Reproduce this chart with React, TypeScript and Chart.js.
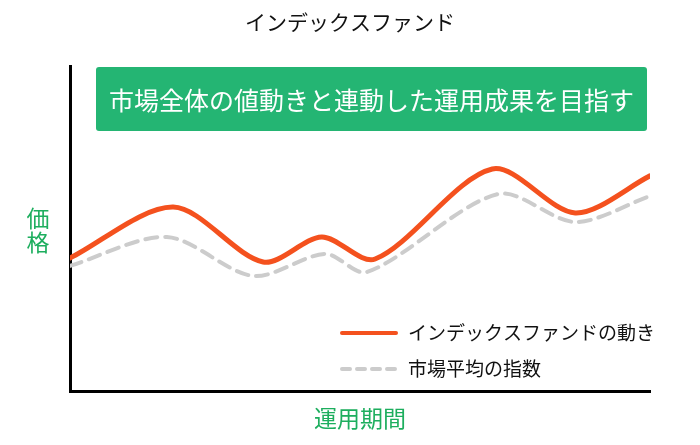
import React, { useEffect, useRef } from "react";
import { Chart, registerables } from "chart.js";

Chart.register(...registerables);

const chartTitle = "インデックスファンド";
const bannerText = "市場全体の値動きと連動した運用成果を目指す";
const yAxisLabel = ["価", "格"];
const xAxisLabel = "運用期間";
const fundLabel = "インデックスファンドの動き";
const marketLabel = "市場平均の指数";

const fundPeriods = [0, 17.8, 33.3, 43.4, 52.6, 72.8, 87.1, 100];
const fundValues = [40.9, 56.6, 39.7, 47.4, 40.6, 68.3, 54.8, 66.2];
const marketPeriods = [0, 16.7, 31.6, 44, 51.2, 73.8, 87.1, 100];
const marketValues = [38.5, 47.4, 35.4, 42.2, 36.6, 60.6, 52, 60];

const ORANGE = "#F4511E";
const GRAY = "#CCCCCC";
const GREEN_BOX = "#24B573";
const GREEN_TEXT = "#1DAE5E";
const FONT = '"Noto Sans CJK JP", "Noto Sans", sans-serif';

const decorPlugin = {
  id: "decor",
  afterDraw(chart: any) {
    const ctx = chart.ctx as CanvasRenderingContext2D;
    const ca = chart.chartArea;
    ctx.save();
    // title
    ctx.fillStyle = "#111111";
    ctx.font = `21px ${FONT}`;
    ctx.textAlign = "center";
    ctx.textBaseline = "middle";
    ctx.fillText(chartTitle, 350, 22);

    // banner
    ctx.fillStyle = GREEN_BOX;
    ctx.beginPath();
    (ctx as any).roundRect(96, 67, 551, 64, 3);
    ctx.fill();
    ctx.fillStyle = "#FFFFFF";
    ctx.font = `25px ${FONT}`;
    ctx.fillText(bannerText, 371.5, 100);

    // axis labels
    ctx.fillStyle = GREEN_TEXT;
    ctx.font = `23px ${FONT}`;
    yAxisLabel.forEach((ch, i) => ctx.fillText(ch, 38, 218 + i * 24));
    ctx.fillText(xAxisLabel, (ca.left + ca.right) / 2, 418);

    // legend
    const sx0 = 342, sx1 = 396, tx = 408;
    const rows = [
      { label: fundLabel, color: ORANGE, dash: [] as number[], y: 333 },
      { label: marketLabel, color: GRAY, dash: [8, 7], y: 369 },
    ];
    rows.forEach((r) => {
      ctx.beginPath();
      ctx.strokeStyle = r.color;
      ctx.lineWidth = 4;
      ctx.lineCap = "round";
      ctx.setLineDash(r.dash);
      ctx.moveTo(sx0, r.y);
      ctx.lineTo(sx1, r.y);
      ctx.stroke();
      ctx.setLineDash([]);
      ctx.fillStyle = "#111111";
      ctx.font = `19px ${FONT}`;
      ctx.textAlign = "left";
      ctx.fillText(r.label, tx, r.y);
    });
    ctx.restore();
  },
};

export default function App() {
  const ref = useRef<HTMLCanvasElement | null>(null);
  useEffect(() => {
    if (!ref.current) return;
    const chart = new Chart(ref.current, {
      type: "line",
      data: {
        datasets: [
          {
            label: marketLabel,
            data: marketPeriods.map((x, i) => ({ x, y: marketValues[i] })),
            borderColor: GRAY,
            borderWidth: 4,
            borderDash: [12, 8],
            borderCapStyle: "round",
            pointRadius: 0,
            tension: 0.3,
            fill: false,
          },
          {
            label: fundLabel,
            data: fundPeriods.map((x, i) => ({ x, y: fundValues[i] })),
            borderColor: ORANGE,
            borderWidth: 5,
            borderCapStyle: "round",
            borderJoinStyle: "round",
            pointRadius: 0,
            tension: 0.3,
            fill: false,
          },
        ],
      },
      options: {
        animation: false,
        responsive: false,
        maintainAspectRatio: false,
        layout: { padding: { left: 70, right: 50, top: 66, bottom: 54 } },
        plugins: {
          legend: { display: false },
          title: { display: false },
          tooltip: { enabled: false },
        },
        scales: {
          x: {
            type: "linear",
            min: 0,
            max: 100,
            grid: { display: false, drawTicks: false },
            ticks: { display: false },
            border: { display: true, color: "#000000", width: 3 },
          },
          y: {
            type: "linear",
            min: 0,
            max: 100,
            grid: { display: false, drawTicks: false },
            ticks: { display: false },
            border: { display: true, color: "#000000", width: 3 },
          },
        },
      },
      plugins: [decorPlugin],
    });
    return () => chart.destroy();
  }, []);
  return (
    <div style={{ position: "fixed", left: 0, top: 0, width: 700, height: 445, background: "#fff" }}>
      <canvas ref={ref} width={700} height={445} style={{ width: 700, height: 445 }} />
    </div>
  );
}
